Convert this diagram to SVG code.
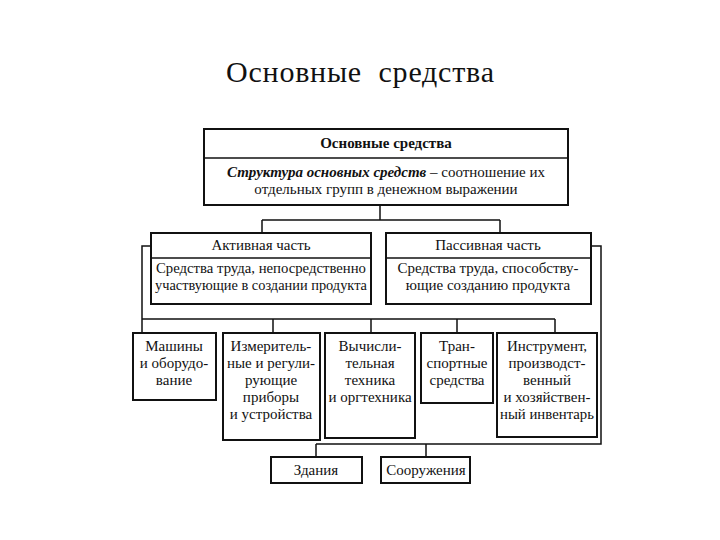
<svg xmlns="http://www.w3.org/2000/svg" width="720" height="540" viewBox="0 0 720 540">
<style>
.box{fill:#fff;stroke:#111;stroke-width:2}
.div{stroke:#111;stroke-width:1.6}
.con{fill:none;stroke:#111;stroke-width:1.5}
text{font-family:"Liberation Serif","Times New Roman",serif;fill:#111;text-anchor:middle}
.t{font-size:15px}
.title{font-size:30px}
.b{font-weight:bold}
.bi{font-weight:bold;font-style:italic}
</style>
<rect width="720" height="540" fill="#fff"/>
<text class="title" x="360" y="82" xml:space="preserve" textLength="268" lengthAdjust="spacing">Основные  средства</text>
<g id="connectors">
<path class="con" d="M380,205 V220 M262,220 H500 M262,220 V233 M500,220 V233"/>
<path class="con" d="M151,246 H142 V333 M142,319 H555 M273,319 V333 M371,319 V333 M457,319 V333 M555,319 V333"/>
<path class="con" d="M591,246 H601 V444 H316 M316,444 V457 M426,444 V457"/>
</g>
<g id="n-main">
<rect class="box" x="204" y="129" width="364" height="76"/>
<line class="div" x1="204" y1="158" x2="568" y2="158"/>
<text class="t b" x="386" y="148">Основные средства</text>
<text class="t" x="386" y="177"><tspan class="bi">Структура основных средств</tspan> – соотношение их</text>
<text class="t" x="386" y="194">отдельных групп в денежном выражении</text>
</g>
<g id="n-active">
<rect class="box" x="151" y="233" width="220" height="71"/>
<line class="div" x1="151" y1="258" x2="371" y2="258"/>
<text class="t" x="261" y="250">Активная часть</text>
<text class="t" x="261" y="273" textLength="210" lengthAdjust="spacingAndGlyphs">Средства труда, непосредственно</text>
<text class="t" x="261" y="290" textLength="212" lengthAdjust="spacingAndGlyphs">участвующие в создании продукта</text>
</g>
<g id="n-passive">
<rect class="box" x="386" y="233" width="205" height="71"/>
<line class="div" x1="386" y1="258" x2="591" y2="258"/>
<text class="t" x="488" y="250">Пассивная часть</text>
<text class="t" x="488" y="273">Средства труда, способству-</text>
<text class="t" x="488" y="290">ющие созданию продукта</text>
</g>
<g id="n-machines">
<rect class="box" x="133" y="333" width="83" height="67"/>
<text class="t" x="174" y="351">Машины</text>
<text class="t" x="174" y="368">и оборудо-</text>
<text class="t" x="174" y="385">вание</text>
</g>
<g id="n-measure">
<rect class="box" x="223" y="333" width="97" height="107"/>
<text class="t" x="271" y="351">Измеритель-</text>
<text class="t" x="271" y="368">ные и регули-</text>
<text class="t" x="271" y="385">рующие</text>
<text class="t" x="271" y="402">приборы</text>
<text class="t" x="271" y="419">и устройства</text>
</g>
<g id="n-computing">
<rect class="box" x="325" y="333" width="90" height="105"/>
<text class="t" x="370" y="351">Вычисли-</text>
<text class="t" x="370" y="368">тельная</text>
<text class="t" x="370" y="385">техника</text>
<text class="t" x="370" y="402">и оргтехника</text>
</g>
<g id="n-transport">
<rect class="box" x="421" y="333" width="72" height="70"/>
<text class="t" x="457" y="351">Тран-</text>
<text class="t" x="457" y="368">спортные</text>
<text class="t" x="457" y="385">средства</text>
</g>
<g id="n-tools">
<rect class="box" x="497" y="333" width="100" height="104"/>
<text class="t" x="547" y="351">Инструмент,</text>
<text class="t" x="547" y="368">производст-</text>
<text class="t" x="547" y="385">венный</text>
<text class="t" x="547" y="402">и хозяйствен-</text>
<text class="t" x="547" y="419" textLength="94" lengthAdjust="spacingAndGlyphs">ный инвентарь</text>
</g>
<g id="n-buildings">
<rect class="box" x="271" y="457" width="91" height="26"/>
<text class="t" x="316" y="475">Здания</text>
</g>
<g id="n-structures">
<rect class="box" x="381" y="457" width="89" height="26"/>
<text class="t" x="426" y="475">Сооружения</text>
</g>
</svg>
